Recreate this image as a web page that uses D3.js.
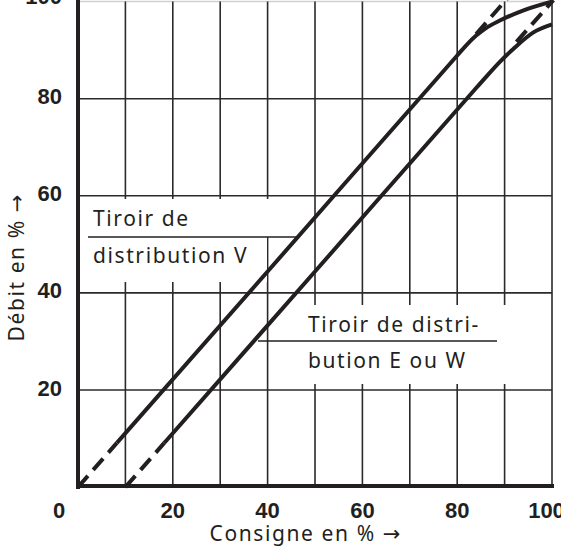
<!DOCTYPE html>
<html><head><meta charset="utf-8">
<script src="https://cdn.jsdelivr.net/npm/d3@7/dist/d3.min.js"></script>
<style>
html,body{margin:0;padding:0;background:#fff;}
svg{display:block;}
.tick{font-family:"Liberation Sans Narrow","Liberation Sans",Arial,sans-serif;font-weight:bold;font-size:22px;fill:#231f20;}
.lbl{font-family:"Noto Sans","Open Sans",sans-serif;font-size:21px;fill:#231f20;letter-spacing:1.6px;}
.arr{font-family:"DejaVu Sans",sans-serif;letter-spacing:0;}
</style></head>
<body>
<svg id="c" width="561" height="547"></svg>
<script>
// ---- data ----
const xTicks = [0, 20, 40, 60, 80, 100];
const yTicks = [20, 40, 60, 80, 100];
const xGrid = [10, 20, 30, 40, 50, 60, 70, 80, 90, 100];
const yGrid = [20, 40, 60, 80];
// Spool V (solid, with curved saturation)
const vSolid = [[8.2, 9.1], [40, 44.4], [80, 88.9], [82, 91.1], [84, 93.0], [86, 94.5], [89, 96.1], [94, 98.2], [100, 100]];
const vDashStart = [[0, 0], [8.2, 9.1]];
const vDashEnd = [[84, 93.3], [90.6, 100.7]];
// Spool E or W
const ewSolid = [[18.2, 9.1], [50, 44.4], [84, 82.2], [86, 84.4], [89, 87.6], [92, 90.4], [96, 93.6], [100, 95.3]];
const ewDashStart = [[10, 0], [18.2, 9.1]];
const ewDashEnd = [[92.5, 91.7], [100.3, 100.3]];
const xTitle = ["Consigne en % ", "→"];
const yTitle = ["Débit en % ", "→"];
const labelV = ["Tiroir de", "distribution V"];
const labelEW = ["Tiroir de distri-", "bution E ou W"];

// ---- scales ----
const x = d3.scaleLinear().domain([0, 100]).range([78, 552]);
const y = d3.scaleLinear().domain([0, 100]).range([487.1, 1.6]);
const svg = d3.select("#c");
const ink = "#231f20";

// top light line
svg.append("line").attr("x1", x(0)).attr("x2", x(100)).attr("y1", y(100)).attr("y2", y(100))
  .attr("stroke", "#d0d0d0").attr("stroke-width", 1.5);

// grid
svg.append("g").selectAll("line").data(xGrid).join("line")
  .attr("x1", d => x(d)).attr("x2", d => x(d)).attr("y1", y(100)).attr("y2", y(0))
  .attr("stroke", "#2a2a2a").attr("stroke-width", 1.6);
svg.append("g").selectAll("line").data(yGrid).join("line")
  .attr("x1", x(0)).attr("x2", x(100)).attr("y1", d => y(d)).attr("y2", d => y(d))
  .attr("stroke", "#2a2a2a").attr("stroke-width", 1.6);

// label masks
svg.append("rect").attr("x", x(0) + 2).attr("y", 199).attr("width", 222).attr("height", 38).attr("fill", "#fff");
svg.append("rect").attr("x", x(0) + 2).attr("y", 237).attr("width", 187).attr("height", 45).attr("fill", "#fff");
svg.append("rect").attr("x", 270).attr("y", 305).attr("width", 250).attr("height", 79).attr("fill", "#fff");

// underlines
svg.append("line").attr("x1", 88).attr("x2", 297).attr("y1", 237).attr("y2", 237).attr("stroke", ink).attr("stroke-width", 1.6);
svg.append("line").attr("x1", 258).attr("x2", 497).attr("y1", 341).attr("y2", 341).attr("stroke", ink).attr("stroke-width", 1.6);

// axes
svg.append("line").attr("x1", x(0)).attr("x2", x(0)).attr("y1", 0).attr("y2", y(0) + 2)
  .attr("stroke", ink).attr("stroke-width", 4);
svg.append("line").attr("x1", x(0) - 2).attr("x2", x(100) + 2).attr("y1", y(0) - 1).attr("y2", y(0) - 1)
  .attr("stroke", ink).attr("stroke-width", 4);

// curves
const lineGen = d3.line().x(d => x(d[0])).y(d => y(d[1])).curve(d3.curveMonotoneX);
const straight = d3.line().x(d => x(d[0])).y(d => y(d[1]));
[vSolid, ewSolid].forEach(s => svg.append("path").attr("d", lineGen(s)).attr("fill", "none")
  .attr("stroke", ink).attr("stroke-width", 4).attr("stroke-linecap", "butt"));
[vDashStart, ewDashStart, vDashEnd, ewDashEnd].forEach(s => svg.append("path").attr("d", straight(s)).attr("fill", "none")
  .attr("stroke", ink).attr("stroke-width", 4).attr("stroke-dasharray", "15,8"));

// tick labels
const xOff = {0: -19, 100: -5.5};
svg.append("g").selectAll("text").data(xTicks).join("text").attr("class", "tick")
  .attr("x", d => x(d) + (xOff[d] || 0)).attr("y", 518).attr("text-anchor", "middle").text(d => d);
const yOff = {100: 2.5};
svg.append("g").selectAll("text").data(yTicks).join("text").attr("class", "tick")
  .attr("x", 62).attr("y", d => y(d) + (yOff[d] !== undefined ? yOff[d] : 5.5)).attr("text-anchor", "end").text(d => d);

// titles
const tx = svg.append("text").attr("class", "lbl").attr("x", 305).attr("y", 541).attr("text-anchor", "middle");
tx.append("tspan").text(xTitle[0]);
tx.append("tspan").attr("class", "arr").text(xTitle[1]);
const ty = svg.append("text").attr("class", "lbl").attr("transform", "translate(23.5,268) rotate(-90)").attr("text-anchor", "middle");
ty.append("tspan").text(yTitle[0]);
ty.append("tspan").attr("class", "arr").text(yTitle[1]);

// annotation labels
svg.append("text").attr("class", "lbl").attr("x", 93).attr("y", 226).text(labelV[0]);
svg.append("text").attr("class", "lbl").attr("x", 93).attr("y", 262.7).text(labelV[1]);
svg.append("text").attr("class", "lbl").attr("x", 308).attr("y", 332).text(labelEW[0]);
svg.append("text").attr("class", "lbl").attr("x", 308).attr("y", 368).text(labelEW[1]);
</script>
</body></html>
